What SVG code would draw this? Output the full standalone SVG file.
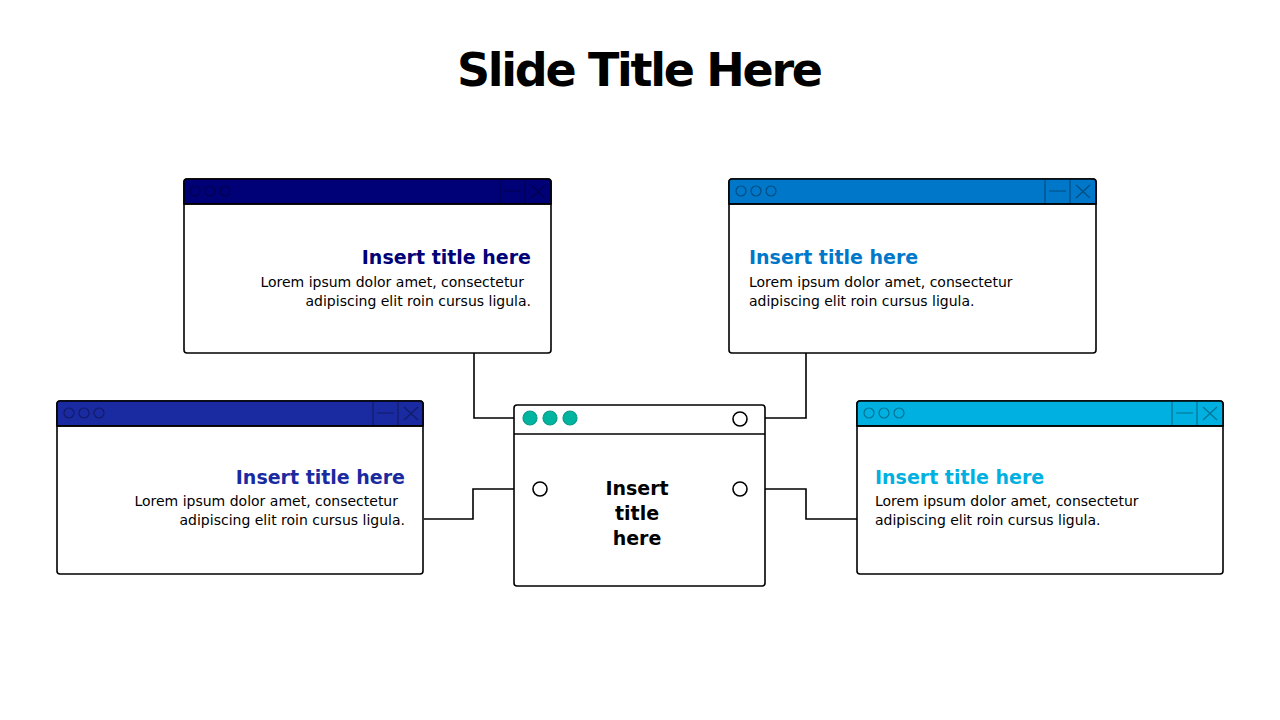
<svg xmlns="http://www.w3.org/2000/svg" width="1280" height="720" viewBox="0 0 1280 720">
<style>
.frame{fill:#fff;stroke:#000;stroke-width:1.6}
.hl{stroke:#000;stroke-width:1.6}
.ic{fill:none;stroke-opacity:0.35;stroke:#000;stroke-width:1.2}
.t{font-family:"DejaVu Sans",Verdana,sans-serif;font-weight:bold;font-size:19px}
.b{font-family:"DejaVu Sans",Verdana,sans-serif;font-size:14px;fill:#000}
.c{fill:none;stroke:#000;stroke-width:1.6}
.port{fill:#fff;stroke:#000;stroke-width:1.6}
</style>
<rect width="1280" height="720" fill="#fff"/>
<text x="640" y="86" text-anchor="middle" font-family="DejaVu Sans,Verdana,sans-serif" font-weight="bold" font-size="46" textLength="366">Slide Title Here</text>
<g id="connectors">
<path class="c" d="M474 347V418H522"/>
<path class="c" d="M806 347V418H748"/>
<path class="c" d="M424 519H473V489H533"/>
<path class="c" d="M748 489H806V519H857"/>
</g>
<g id="win-tl">
<rect class="frame" x="184" y="179" width="367" height="174" rx="3"/>
<path d="M184 182a3 3 0 0 1 3-3h361a3 3 0 0 1 3 3v22h-367z" fill="#000077" stroke="#000" stroke-width="1.6"/>
<line class="hl" x1="184" y1="204" x2="551" y2="204"/>
<g class="ic"><circle cx="195" cy="191" r="5"/><circle cx="210" cy="191" r="5"/><circle cx="225" cy="191" r="5"/><path d="M500 180V204M525 180V204M504 191H521M531 185L545 198M545 185L531 198"/></g>
<text class="t" x="531" y="264" text-anchor="end" fill="#000077">Insert title here</text>
<text class="b" x="524" y="287" text-anchor="end">Lorem ipsum dolor amet, consectetur</text>
<text class="b" x="531" y="306" text-anchor="end">adipiscing elit roin cursus ligula.</text>
</g>
<g id="win-tr">
<rect class="frame" x="729" y="179" width="367" height="174" rx="3"/>
<path d="M729 182a3 3 0 0 1 3-3h361a3 3 0 0 1 3 3v22h-367z" fill="#0077c8" stroke="#000" stroke-width="1.6"/>
<line class="hl" x1="729" y1="204" x2="1096" y2="204"/>
<g class="ic"><circle cx="741" cy="191" r="5"/><circle cx="756" cy="191" r="5"/><circle cx="771" cy="191" r="5"/><path d="M1045 180V204M1070 180V204M1049 191H1066M1076 185L1090 198M1090 185L1076 198"/></g>
<text class="t" x="749" y="264" fill="#0077c8">Insert title here</text>
<text class="b" x="749" y="287">Lorem ipsum dolor amet, consectetur</text>
<text class="b" x="749" y="306">adipiscing elit roin cursus ligula.</text>
</g>
<g id="win-l">
<rect class="frame" x="57" y="401" width="366" height="173" rx="3"/>
<path d="M57 404a3 3 0 0 1 3-3h360a3 3 0 0 1 3 3v22h-366z" fill="#1a2aa0" stroke="#000" stroke-width="1.6"/>
<line class="hl" x1="57" y1="426" x2="423" y2="426"/>
<g class="ic"><circle cx="69" cy="413" r="5"/><circle cx="84" cy="413" r="5"/><circle cx="99" cy="413" r="5"/><path d="M373 402V426M398 402V426M377 413H394M404 407L418 420M418 407L404 420"/></g>
<text class="t" x="405" y="484" text-anchor="end" fill="#1a2aa0">Insert title here</text>
<text class="b" x="398" y="506" text-anchor="end">Lorem ipsum dolor amet, consectetur</text>
<text class="b" x="405" y="525" text-anchor="end">adipiscing elit roin cursus ligula.</text>
</g>
<g id="win-r">
<rect class="frame" x="857" y="401" width="366" height="173" rx="3"/>
<path d="M857 404a3 3 0 0 1 3-3h360a3 3 0 0 1 3 3v22h-366z" fill="#00b0e0" stroke="#000" stroke-width="1.6"/>
<line class="hl" x1="857" y1="426" x2="1223" y2="426"/>
<g class="ic"><circle cx="869" cy="413" r="5"/><circle cx="884" cy="413" r="5"/><circle cx="899" cy="413" r="5"/><path d="M1172 402V426M1197 402V426M1176 413H1193M1203 407L1217 420M1217 407L1203 420"/></g>
<text class="t" x="875" y="484" fill="#00b0e0">Insert title here</text>
<text class="b" x="875" y="506">Lorem ipsum dolor amet, consectetur</text>
<text class="b" x="875" y="525">adipiscing elit roin cursus ligula.</text>
</g>
<g id="win-center">
<rect class="frame" x="514" y="405" width="251" height="181" rx="3"/>
<line class="hl" x1="514" y1="434" x2="765" y2="434"/>
<g fill="#00b5a0" stroke="#0a9a88" stroke-width="1.2"><circle cx="530" cy="418" r="7"/><circle cx="550" cy="418" r="7"/><circle cx="570" cy="418" r="7"/></g>
<circle class="port" cx="740" cy="419" r="7"/>
<circle class="port" cx="540" cy="489" r="7"/>
<circle class="port" cx="740" cy="489" r="7"/>
<text class="t" x="637" y="495" text-anchor="middle" fill="#000">Insert</text>
<text class="t" x="637" y="520" text-anchor="middle" fill="#000">title</text>
<text class="t" x="637" y="545" text-anchor="middle" fill="#000">here</text>
</g>
</svg>
